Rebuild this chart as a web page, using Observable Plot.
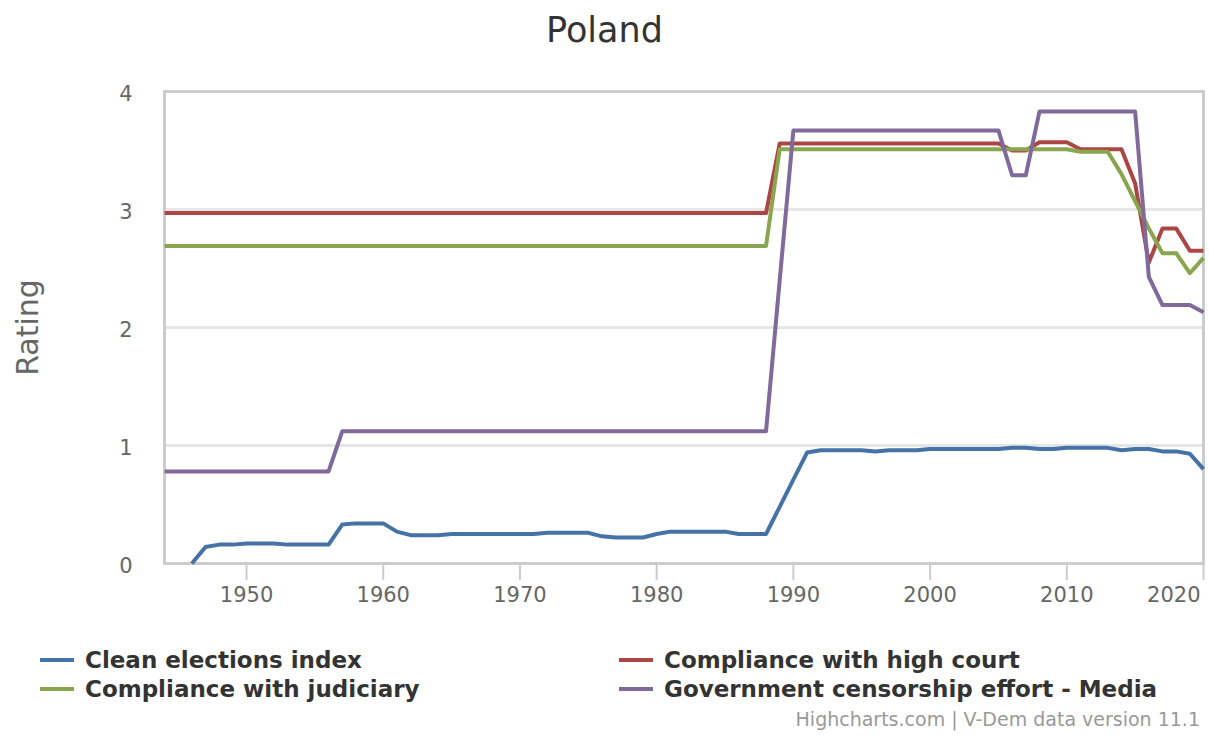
<!DOCTYPE html>
<html>
<head>
<meta charset="utf-8">
<script src="https://cdn.jsdelivr.net/npm/d3@7"></script>
<script src="https://cdn.jsdelivr.net/npm/@observablehq/plot@0.6"></script>
<style>
  body { margin: 0; background: #fff; font-family: "DejaVu Sans", sans-serif; }
  #wrap { position: relative; width: 1209px; height: 736px; overflow: hidden; }
  #title { position: absolute; left: 0; top: 0; width: 1209px; height: 60px; line-height: 60px; text-align: center; font-size: 35px; color: #333; }
  #chart { position: absolute; left: 0; top: 60px; }
  .leg { position: absolute; font-size: 23px; font-weight: bold; color: #333; white-space: nowrap; line-height: 28px; }
  .sym { display: inline-block; width: 34px; height: 4px; vertical-align: middle; margin-right: 11px; position: relative; top: -2px; }
  #credits { position: absolute; right: 9px; top: 708px; font-size: 19px; color: #999; white-space: nowrap; }
</style>
</head>
<body>
<div id="wrap">
  <div id="title">Poland</div>
  <div id="chart"></div>
  <div id="legend"></div>
  <div id="credits">Highcharts.com | V-Dem data version 11.1</div>
</div>
<script>
const years = d3.range(1944, 2021);

const seriesNames = [
  "Clean elections index",
  "Compliance with high court",
  "Compliance with judiciary",
  "Government censorship effort - Media"
];
const seriesColors = ["#4572A7", "#AA4643", "#89A54E", "#80699B"];

const cleanElections = [
  null, null, 0.00, 0.14, 0.16, 0.16, 0.17, 0.17, 0.17, 0.16,
  0.16, 0.16, 0.16, 0.33, 0.34, 0.34, 0.34, 0.27, 0.24, 0.24,
  0.24, 0.25, 0.25, 0.25, 0.25, 0.25, 0.25, 0.25, 0.26, 0.26,
  0.26, 0.26, 0.23, 0.22, 0.22, 0.22, 0.25, 0.27, 0.27, 0.27,
  0.27, 0.27, 0.25, 0.25, 0.25, 0.48, 0.71, 0.94, 0.96, 0.96,
  0.96, 0.96, 0.95, 0.96, 0.96, 0.96, 0.97, 0.97, 0.97, 0.97,
  0.97, 0.97, 0.98, 0.98, 0.97, 0.97, 0.98, 0.98, 0.98, 0.98,
  0.96, 0.97, 0.97, 0.95, 0.95, 0.93, 0.80
];

const highCourt = [
  2.97, 2.97, 2.97, 2.97, 2.97, 2.97, 2.97, 2.97, 2.97, 2.97,
  2.97, 2.97, 2.97, 2.97, 2.97, 2.97, 2.97, 2.97, 2.97, 2.97,
  2.97, 2.97, 2.97, 2.97, 2.97, 2.97, 2.97, 2.97, 2.97, 2.97,
  2.97, 2.97, 2.97, 2.97, 2.97, 2.97, 2.97, 2.97, 2.97, 2.97,
  2.97, 2.97, 2.97, 2.97, 2.97, 3.56, 3.56, 3.56, 3.56, 3.56,
  3.56, 3.56, 3.56, 3.56, 3.56, 3.56, 3.56, 3.56, 3.56, 3.56,
  3.56, 3.56, 3.50, 3.50, 3.57, 3.57, 3.57, 3.51, 3.51, 3.51,
  3.51, 3.22, 2.55, 2.84, 2.84, 2.65, 2.65
];

const judiciary = [
  2.69, 2.69, 2.69, 2.69, 2.69, 2.69, 2.69, 2.69, 2.69, 2.69,
  2.69, 2.69, 2.69, 2.69, 2.69, 2.69, 2.69, 2.69, 2.69, 2.69,
  2.69, 2.69, 2.69, 2.69, 2.69, 2.69, 2.69, 2.69, 2.69, 2.69,
  2.69, 2.69, 2.69, 2.69, 2.69, 2.69, 2.69, 2.69, 2.69, 2.69,
  2.69, 2.69, 2.69, 2.69, 2.69, 3.51, 3.51, 3.51, 3.51, 3.51,
  3.51, 3.51, 3.51, 3.51, 3.51, 3.51, 3.51, 3.51, 3.51, 3.51,
  3.51, 3.51, 3.51, 3.51, 3.51, 3.51, 3.51, 3.49, 3.49, 3.49,
  3.30, 3.07, 2.84, 2.63, 2.63, 2.46, 2.59
];

const censorship = [
  0.78, 0.78, 0.78, 0.78, 0.78, 0.78, 0.78, 0.78, 0.78, 0.78,
  0.78, 0.78, 0.78, 1.12, 1.12, 1.12, 1.12, 1.12, 1.12, 1.12,
  1.12, 1.12, 1.12, 1.12, 1.12, 1.12, 1.12, 1.12, 1.12, 1.12,
  1.12, 1.12, 1.12, 1.12, 1.12, 1.12, 1.12, 1.12, 1.12, 1.12,
  1.12, 1.12, 1.12, 1.12, 1.12, 2.40, 3.67, 3.67, 3.67, 3.67,
  3.67, 3.67, 3.67, 3.67, 3.67, 3.67, 3.67, 3.67, 3.67, 3.67,
  3.67, 3.67, 3.29, 3.29, 3.83, 3.83, 3.83, 3.83, 3.83, 3.83,
  3.83, 3.83, 2.43, 2.19, 2.19, 2.19, 2.13
];

const xTicks = [1950, 1960, 1970, 1980, 1990, 2000, 2010, 2020];
const yTicks = [0, 1, 2, 3, 4];
const yLabel = "Rating";

const allSeries = [cleanElections, highCourt, judiciary, censorship];
const tables = allSeries.map((vals, i) =>
  years.map((yr, j) => ({ year: yr, value: vals[j], series: seriesNames[i] }))
);

const chart = Plot.plot({
  width: 1209,
  height: 560,
  marginLeft: 164,
  marginRight: 6,
  marginTop: 31,
  marginBottom: 57,
  style: { fontFamily: "DejaVu Sans, sans-serif", fontSize: "21px", color: "#666", background: "#fff", overflow: "visible" },
  x: { domain: [1944, 2020] },
  y: { domain: [0, 4] },
  marks: [
    Plot.gridY(yTicks, { stroke: "#e6e6e6", strokeOpacity: 1, strokeWidth: 3 }),
    Plot.frame({ stroke: "#cccccc", strokeWidth: 3 }),
    Plot.axisY(yTicks, { tickSize: 0, tickPadding: 32, tickFormat: d => String(d), fill: "#666", fontSize: 21, label: null, dy: 3 }),
    Plot.axisX(xTicks, { tickSize: 17, tickFormat: () => "", stroke: "#cccccc", strokeWidth: 2, label: null }),
    Plot.text(xTicks.filter(d => d !== 2020), { x: d => d, text: d => String(d), frameAnchor: "bottom", lineAnchor: "top", dy: 24, fill: "#666", fontSize: 21 }),
    Plot.text(xTicks.filter(d => d === 2020), { x: d => d, text: d => String(d), frameAnchor: "bottom", lineAnchor: "top", dy: 24, dx: -3, textAnchor: "end", fill: "#666", fontSize: 21 }),
    Plot.text([yLabel], { text: d => d, frameAnchor: "left", textAnchor: "middle", dx: -136, rotate: -90, fill: "#666", fontSize: 30 }),
    ...tables.map((t, i) => Plot.line(t, { x: "year", y: "value", stroke: seriesColors[i], strokeWidth: 4, strokeLinejoin: "round", strokeLinecap: "butt" }))
  ]
});
document.getElementById("chart").appendChild(chart);

// Legend (two columns, row-wise order like Highcharts)
const legendPos = [
  { left: 40, top: 646 },
  { left: 619, top: 646 },
  { left: 40, top: 675 },
  { left: 619, top: 675 }
];
const legend = document.getElementById("legend");
seriesNames.forEach((name, i) => {
  const div = document.createElement("div");
  div.className = "leg";
  div.style.left = legendPos[i].left + "px";
  div.style.top = legendPos[i].top + "px";
  const sym = document.createElement("span");
  sym.className = "sym";
  sym.style.background = seriesColors[i];
  div.appendChild(sym);
  div.appendChild(document.createTextNode(name));
  legend.appendChild(div);
});
</script>
</body>
</html>
